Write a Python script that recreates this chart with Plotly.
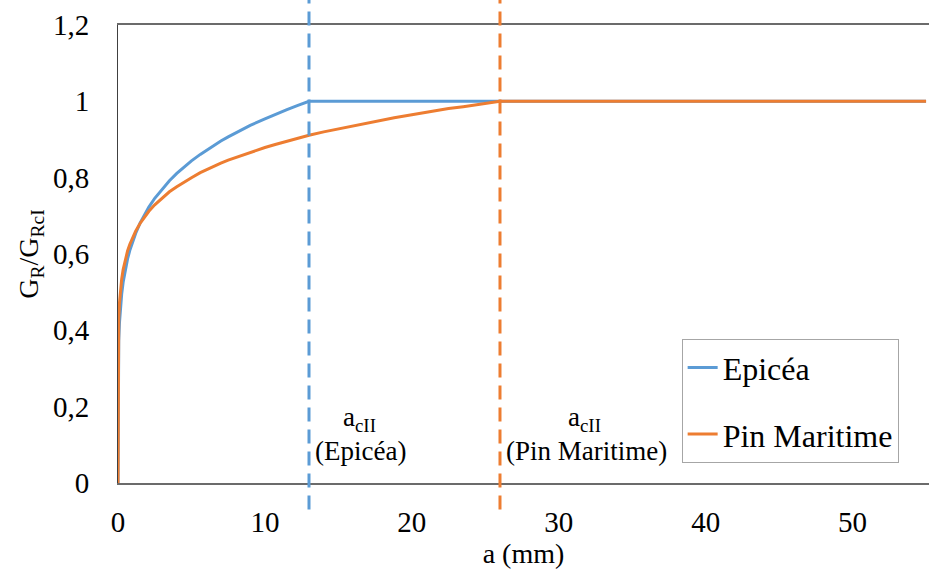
import plotly.graph_objects as go

# Data
epicea_x = [0, 0.005, 0.02, 0.05, 0.1, 0.17, 0.25, 0.35, 0.5, 0.65, 0.8, 1.0, 1.2, 1.5, 1.8, 2.1, 2.5,
            3.0, 3.5, 4, 4.5, 5, 5.6, 6.3, 7, 7.5, 8, 8.5, 9, 10, 10.7, 11.5, 12.2, 13, 55]
epicea_y = [0, 0.247, 0.316, 0.372, 0.42, 0.462, 0.495, 0.526, 0.56, 0.587, 0.609, 0.633, 0.654, 0.681,
            0.703, 0.723, 0.746, 0.770, 0.792, 0.811, 0.828, 0.844, 0.861, 0.879, 0.896, 0.907, 0.917,
            0.927, 0.937, 0.954, 0.966, 0.978, 0.989, 1.0, 1.0]

pin_x = [0, 0.005, 0.02, 0.05, 0.1, 0.17, 0.25, 0.35, 0.5, 0.65, 0.8, 1.0, 1.2, 1.5, 1.8, 2.1, 2.5,
         3.0, 3.5, 4, 4.5, 5, 5.6, 6.3, 7, 7.5, 8, 8.5, 9, 10, 10.7, 11.5, 12.2, 13, 14, 15, 16.2,
         17.5, 18.8, 20, 21.2, 22.5, 23.5, 24.5, 25.3, 26, 55]
pin_y = [0, 0.315, 0.38, 0.43, 0.472, 0.507, 0.534, 0.559, 0.587, 0.608, 0.625, 0.644, 0.66, 0.680,
         0.697, 0.712, 0.729, 0.747, 0.763, 0.776, 0.789, 0.800, 0.813, 0.826, 0.838, 0.846, 0.853,
         0.860, 0.867, 0.879, 0.887, 0.896, 0.903, 0.911, 0.920, 0.928, 0.938, 0.948, 0.957, 0.965,
         0.973, 0.981, 0.986, 0.992, 0.996, 1.0, 1.0]

ac_values = [13, 26]
ac_names = ["(Epicéa)", "(Pin Maritime)"]

y_tickvals = [0, 0.2, 0.4, 0.6, 0.8, 1.0, 1.2]
y_ticktext = ["0", "0,2", "0,4", "0,6", "0,8", "1", "1,2"]
x_tickvals = [0, 10, 20, 30, 40, 50]

BLUE = "#5B9BD5"
ORANGE = "#ED7D31"
FONT = "Liberation Serif, serif"

fig = go.Figure()
fig.add_trace(go.Scatter(x=epicea_x, y=epicea_y, mode="lines", name="Epicéa", legendgroup="a",
                         line=dict(color=BLUE, width=3)))
fig.add_trace(go.Scatter(x=pin_x, y=pin_y, mode="lines", name="Pin Maritime", legendgroup="b",
                         line=dict(color=ORANGE, width=3)))

for xv, col in zip(ac_values, [BLUE, ORANGE]):
    fig.add_shape(type="line", xref="x", yref="paper", x0=xv, x1=xv, y0=-0.058, y1=1.06,
                  line=dict(color=col, width=3, dash="14px,8px"))

label_half = [46, 81]
for xv, name, half in zip(ac_values, ac_names, label_half):
    fig.add_annotation(x=xv, y=0.07, xref="x", yref="paper", text=name, showarrow=False,
                       xanchor="left", yanchor="middle", xshift=4,
                       font=dict(family=FONT, size=27))
    fig.add_annotation(x=xv, y=0.14, xref="x", yref="paper", text="a<sub>cII</sub>",
                       showarrow=False, xanchor="center", yanchor="middle", xshift=4 + half,
                       font=dict(family=FONT, size=27))

fig.update_layout(
    width=929, height=574,
    margin=dict(l=118, r=0, t=25, b=91, autoexpand=False),
    paper_bgcolor="white", plot_bgcolor="white",
    font=dict(family=FONT, size=28, color="black"),
    showlegend=True,
    legend=dict(x=0.695, y=0.314, xanchor="left", yanchor="top",
                bordercolor="#a6a6a6", borderwidth=1, bgcolor="white",
                font=dict(family=FONT, size=32),
                traceorder="grouped", tracegroupgap=22),
)
fig.update_xaxes(range=[0, 55.2], tickvals=x_tickvals, showgrid=False, zeroline=False,
                 showline=True, linecolor="#6b6b6b", linewidth=1.5, mirror=True,
                 ticks="outside", ticklen=12, tickcolor="rgba(0,0,0,0)",
                 tickfont=dict(family=FONT, size=29),
                 title=dict(text="a (mm)", standoff=0, font=dict(family=FONT, size=28)))
fig.update_yaxes(range=[0, 1.2], tickvals=y_tickvals, ticktext=y_ticktext, showgrid=False,
                 zeroline=False, showline=True, linecolor="#404040", linewidth=1, mirror=True,
                 ticks="outside", ticklen=22, tickcolor="rgba(0,0,0,0)",
                 tickfont=dict(family=FONT, size=29),
                 title=dict(text="G<sub>R</sub>/G<sub>RcI</sub>", standoff=6,
                            font=dict(family=FONT, size=28)))

fig.write_html("out.html", config={"displayModeBar": False},
               post_script="document.body.style.margin='0';")
